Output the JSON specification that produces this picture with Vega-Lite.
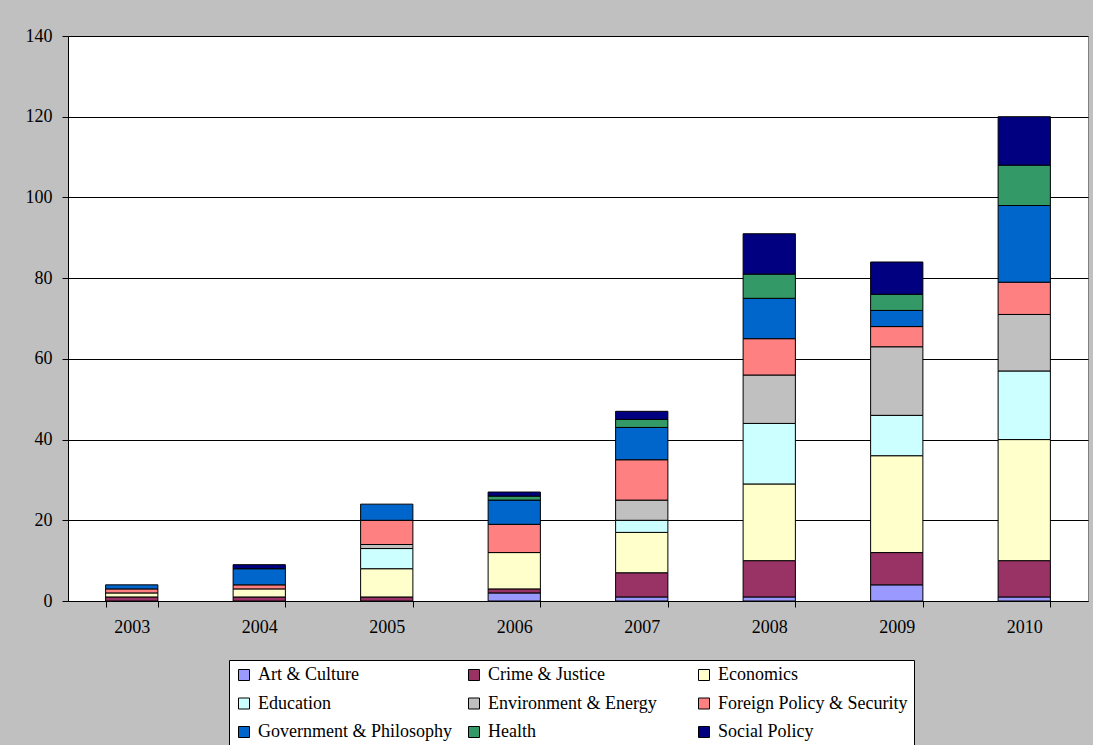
{
  "$schema": "https://vega.github.io/schema/vega-lite/v6.json",
  "width": 1020,
  "height": 565,
  "autosize": {"type": "none"},
  "padding": {"left": 68, "top": 36, "right": 5, "bottom": 144},
  "background": "#c0c0c0",
  "data": {
    "values": [
      {"year": "2003", "topic": "Crime & Justice", "count": 1},
      {"year": "2003", "topic": "Economics", "count": 1},
      {"year": "2003", "topic": "Foreign Policy & Security", "count": 1},
      {"year": "2003", "topic": "Government & Philosophy", "count": 1},
      {"year": "2004", "topic": "Crime & Justice", "count": 1},
      {"year": "2004", "topic": "Economics", "count": 2},
      {"year": "2004", "topic": "Foreign Policy & Security", "count": 1},
      {"year": "2004", "topic": "Government & Philosophy", "count": 4},
      {"year": "2004", "topic": "Social Policy", "count": 1},
      {"year": "2005", "topic": "Crime & Justice", "count": 1},
      {"year": "2005", "topic": "Economics", "count": 7},
      {"year": "2005", "topic": "Education", "count": 5},
      {"year": "2005", "topic": "Environment & Energy", "count": 1},
      {"year": "2005", "topic": "Foreign Policy & Security", "count": 6},
      {"year": "2005", "topic": "Government & Philosophy", "count": 4},
      {"year": "2006", "topic": "Art & Culture", "count": 2},
      {"year": "2006", "topic": "Crime & Justice", "count": 1},
      {"year": "2006", "topic": "Economics", "count": 9},
      {"year": "2006", "topic": "Foreign Policy & Security", "count": 7},
      {"year": "2006", "topic": "Government & Philosophy", "count": 6},
      {"year": "2006", "topic": "Health", "count": 1},
      {"year": "2006", "topic": "Social Policy", "count": 1},
      {"year": "2007", "topic": "Art & Culture", "count": 1},
      {"year": "2007", "topic": "Crime & Justice", "count": 6},
      {"year": "2007", "topic": "Economics", "count": 10},
      {"year": "2007", "topic": "Education", "count": 3},
      {"year": "2007", "topic": "Environment & Energy", "count": 5},
      {"year": "2007", "topic": "Foreign Policy & Security", "count": 10},
      {"year": "2007", "topic": "Government & Philosophy", "count": 8},
      {"year": "2007", "topic": "Health", "count": 2},
      {"year": "2007", "topic": "Social Policy", "count": 2},
      {"year": "2008", "topic": "Art & Culture", "count": 1},
      {"year": "2008", "topic": "Crime & Justice", "count": 9},
      {"year": "2008", "topic": "Economics", "count": 19},
      {"year": "2008", "topic": "Education", "count": 15},
      {"year": "2008", "topic": "Environment & Energy", "count": 12},
      {"year": "2008", "topic": "Foreign Policy & Security", "count": 9},
      {"year": "2008", "topic": "Government & Philosophy", "count": 10},
      {"year": "2008", "topic": "Health", "count": 6},
      {"year": "2008", "topic": "Social Policy", "count": 10},
      {"year": "2009", "topic": "Art & Culture", "count": 4},
      {"year": "2009", "topic": "Crime & Justice", "count": 8},
      {"year": "2009", "topic": "Economics", "count": 24},
      {"year": "2009", "topic": "Education", "count": 10},
      {"year": "2009", "topic": "Environment & Energy", "count": 17},
      {"year": "2009", "topic": "Foreign Policy & Security", "count": 5},
      {"year": "2009", "topic": "Government & Philosophy", "count": 4},
      {"year": "2009", "topic": "Health", "count": 4},
      {"year": "2009", "topic": "Social Policy", "count": 8},
      {"year": "2010", "topic": "Art & Culture", "count": 1},
      {"year": "2010", "topic": "Crime & Justice", "count": 9},
      {"year": "2010", "topic": "Economics", "count": 30},
      {"year": "2010", "topic": "Education", "count": 17},
      {"year": "2010", "topic": "Environment & Energy", "count": 14},
      {"year": "2010", "topic": "Foreign Policy & Security", "count": 8},
      {"year": "2010", "topic": "Government & Philosophy", "count": 19},
      {"year": "2010", "topic": "Health", "count": 10},
      {"year": "2010", "topic": "Social Policy", "count": 12}
    ]
  },
  "mark": {"type": "bar", "stroke": "#000000", "strokeWidth": 1},
  "encoding": {
    "x": {
      "field": "year",
      "type": "ordinal",
      "scale": {"paddingInner": 0.59, "paddingOuter": 0.295},
      "axis": {
        "title": null,
        "labelAngle": 0,
        "tickBand": "extent",
        "tickSize": 6,
        "labelPadding": 11,
        "grid": false
      }
    },
    "y": {
      "aggregate": "sum",
      "field": "count",
      "type": "quantitative",
      "stack": "zero",
      "scale": {"domain": [0, 140], "nice": false},
      "axis": {
        "title": null,
        "values": [0, 20, 40, 60, 80, 100, 120, 140],
        "tickSize": 6,
        "labelPadding": 10,
        "grid": true
      }
    },
    "color": {
      "field": "topic",
      "type": "nominal",
      "scale": {
        "domain": ["Art & Culture", "Crime & Justice", "Economics", "Education", "Environment & Energy", "Foreign Policy & Security", "Government & Philosophy", "Health", "Social Policy"],
        "range": ["#9999ff", "#993366", "#ffffcc", "#ccffff", "#c0c0c0", "#ff8080", "#0066cc", "#339966", "#000080"]
      },
      "legend": {
        "title": null,
        "orient": "none",
        "legendX": 161,
        "legendY": 624,
        "columns": 3,
        "direction": "horizontal",
        "gridAlign": "all",
        "columnPadding": 13,
        "rowPadding": 10.5,
        "padding": 6,
        "fillColor": "#ffffff",
        "strokeColor": "#000000",
        "symbolType": "square",
        "symbolSize": 121,
        "symbolStrokeColor": "#000000",
        "symbolStrokeWidth": 1,
        "symbolOpacity": 1,
        "labelOffset": 5,
        "labelLimit": 400
      }
    },
    "order": {"field": "topic", "sort": "ascending"}
  },
  "config": {
    "font": "Liberation Serif",
    "view": {"fill": "#ffffff", "stroke": "#808080", "strokeWidth": 1},
    "axis": {
      "labelFont": "Liberation Serif",
      "labelFontSize": 18,
      "labelColor": "#000000",
      "domainColor": "#000000",
      "tickColor": "#000000",
      "gridColor": "#000000",
      "gridWidth": 1,
      "domainWidth": 1
    },
    "legend": {
      "labelFont": "Liberation Serif",
      "labelFontSize": 18,
      "labelColor": "#000000"
    }
  }
}
